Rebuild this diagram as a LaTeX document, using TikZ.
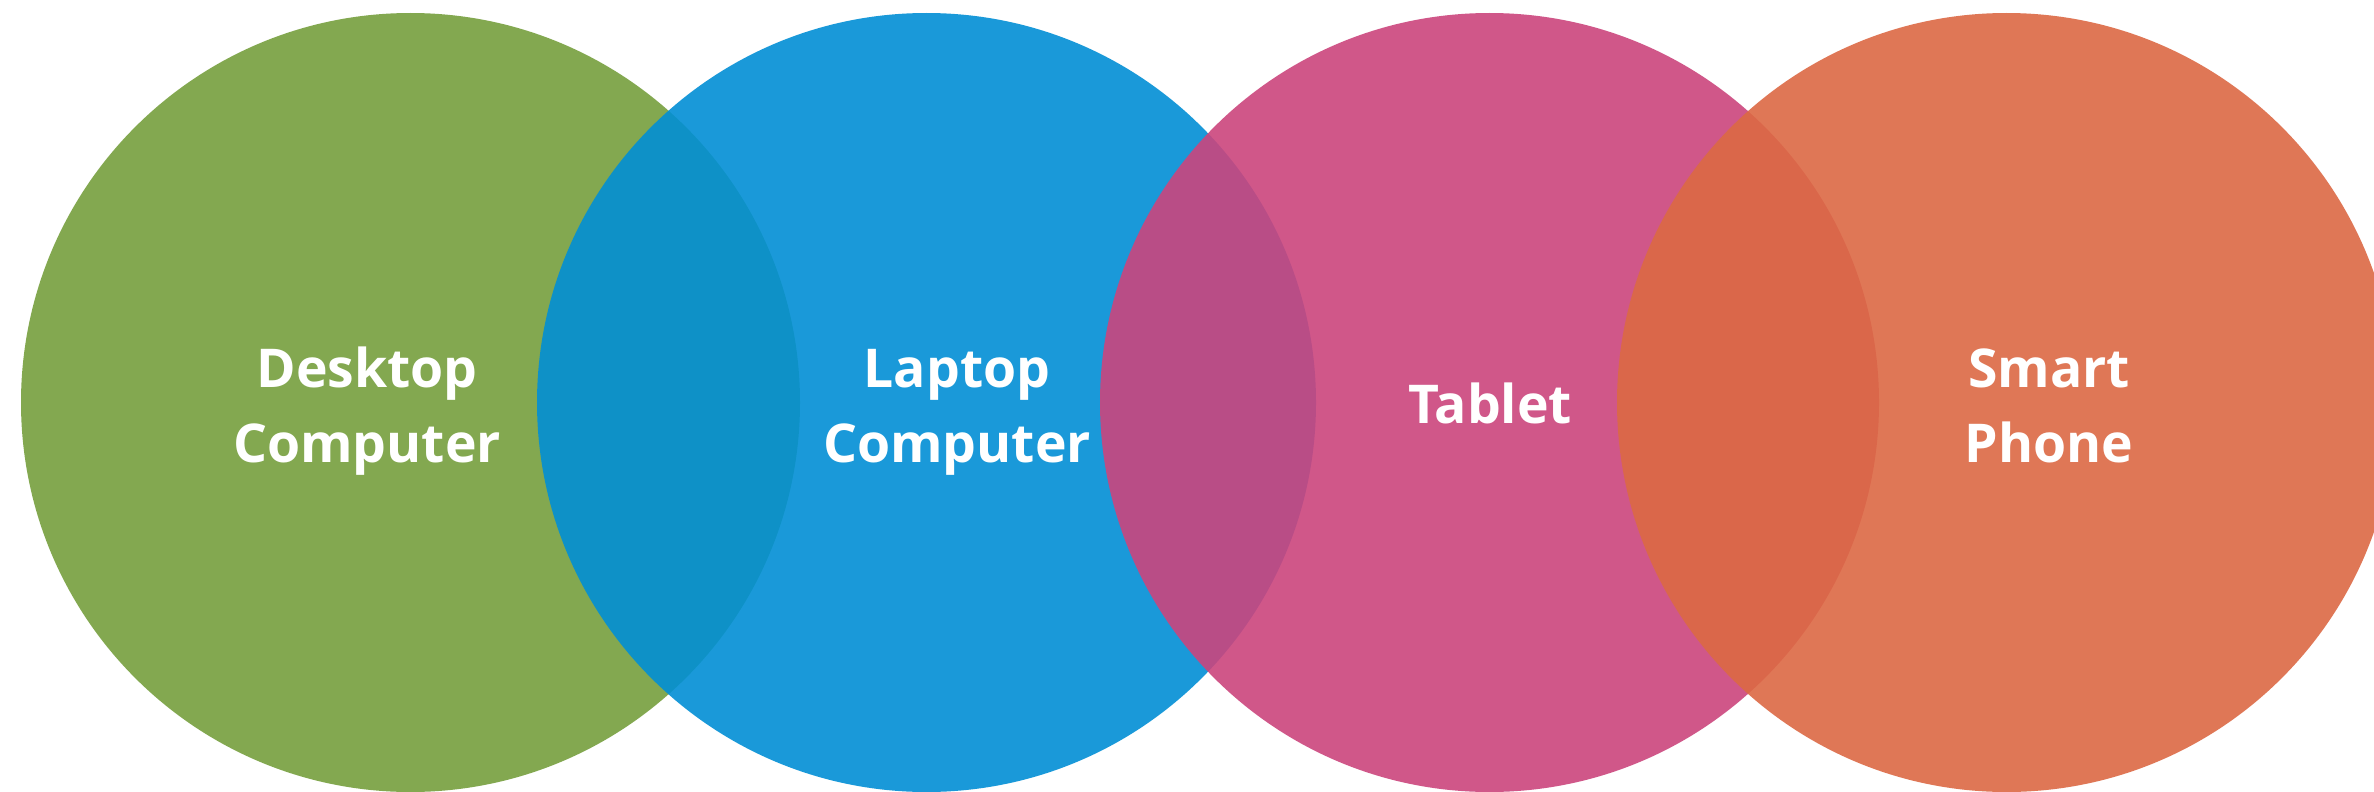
\documentclass[tikz,border=0pt]{standalone}
\usepackage{fontspec}
\setmainfont{Open Sans}
\definecolor{cgreen}{RGB}{118,159,62}
\definecolor{cblue}{RGB}{2,143,213}
\definecolor{cpink}{RGB}{203,69,125}
\definecolor{corange}{RGB}{220,105,68}
\tikzset{
  venn/.style={circle, minimum size=779pt, inner sep=0pt, fill opacity=0.9, draw=none},
  lbl/.style={text=white, align=center, font=\bfseries\fontsize{53.5}{75}\selectfont, inner sep=0pt}
}
\begin{document}
\begin{tikzpicture}[x=1pt,y=-1pt]
\useasboundingbox (0,0) rectangle (2374,792);
\fill[white] (0,0) rectangle (2374,792);
\begin{scope}
\clip (0,0) rectangle (2374,792);
\node[venn, fill=cgreen] (c1) at (410.5,402.5) {};
\node[venn, fill=cblue] (c2) at (926.5,402.5) {};
\node[venn, fill=cpink] (c3) at (1489.5,402.5) {};
\node[venn, fill=corange] (c4) at (2006.5,402.5) {};
\end{scope}
\node[lbl] (t1) at (367,411.5) {Desktop\\Computer};
\node[lbl] (t2) at (957,412.8) {Laptop\\Computer};
\node[lbl] (t3) at (1490,403.7) {Tablet};
\node[lbl] (t4) at (2049,406) {Smart\\Phone};
\end{tikzpicture}
\end{document}
